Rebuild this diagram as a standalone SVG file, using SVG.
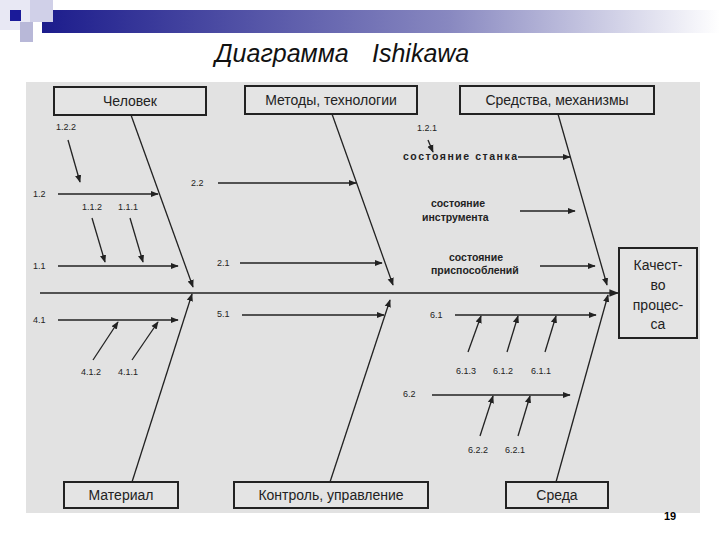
<svg xmlns="http://www.w3.org/2000/svg" width="720" height="540" viewBox="0 0 720 540">
<style>
.box{fill:#e4e4e4;stroke:#222;stroke-width:2}
.bt{font-family:"Liberation Sans",Arial,sans-serif;font-size:14px;fill:#222;text-anchor:middle}
.sm{font-family:"Liberation Sans",Arial,sans-serif;font-size:9px;fill:#222}
.st{font-size:10.5px;font-weight:bold}
.ln{stroke:#222;stroke-width:1.3;fill:none}
.bone{stroke:#222;stroke-width:1.6;fill:none}
.tt{font-family:"Liberation Sans",Arial,sans-serif;font-size:25px;font-style:italic;fill:#111}
</style>
<defs>
<marker id="ar" viewBox="0 0 10 10" refX="9" refY="5" markerWidth="6" markerHeight="6" orient="auto"><path d="M0,1 L10,5 L0,9 z" fill="#222"/></marker>
<linearGradient id="g" x1="0" x2="1"><stop offset="0" stop-color="#1c1c8c"/><stop offset="0.6" stop-color="#8888c0"/><stop offset="1" stop-color="#ffffff"/></linearGradient>
</defs>
<rect width="720" height="540" fill="#fff"/>
<rect x="42" y="10" width="678" height="23" fill="url(#g)"/>
<rect x="0" y="0" width="30" height="30" fill="#e8e8f4"/>
<rect x="20" y="22" width="13" height="20" fill="#b8b8d8"/>
<rect x="30" y="0" width="23" height="22" fill="#d0d0e8"/>
<rect x="10" y="10" width="11" height="11" fill="#1a1a99"/>
<text class="tt" x="215" y="62">Диаграмма</text>
<text class="tt" x="372" y="62">Ishikawa</text>
<rect x="26" y="82" width="674" height="431" fill="#e2e2e2"/>
<g id="connectors">
<line class="bone" x1="40" y1="293" x2="618" y2="293" stroke-width="2.5" marker-end="url(#ar)"/>
<line class="ln" x1="131" y1="115" x2="193" y2="287" marker-end="url(#ar)"/>
<line class="ln" x1="332" y1="114" x2="393" y2="285" marker-end="url(#ar)"/>
<line class="ln" x1="558" y1="114" x2="607" y2="285" marker-end="url(#ar)"/>
<line class="ln" x1="132" y1="482" x2="192" y2="294" marker-end="url(#ar)"/>
<line class="ln" x1="330" y1="482" x2="390" y2="300" marker-end="url(#ar)"/>
<line class="ln" x1="556" y1="482" x2="608" y2="295" marker-end="url(#ar)"/>
<line class="ln" x1="68" y1="140" x2="80" y2="182" marker-end="url(#ar)"/>
<line class="ln" x1="58" y1="194" x2="158" y2="194" marker-end="url(#ar)"/>
<line class="ln" x1="92" y1="218" x2="105" y2="262" marker-end="url(#ar)"/>
<line class="ln" x1="130" y1="218" x2="143" y2="262" marker-end="url(#ar)"/>
<line class="ln" x1="58" y1="266" x2="178" y2="266" stroke-width="1.8" marker-end="url(#ar)"/>
<line class="ln" x1="218" y1="183" x2="356" y2="183" marker-end="url(#ar)"/>
<line class="ln" x1="240" y1="263" x2="382" y2="263" marker-end="url(#ar)"/>
<line class="ln" x1="428" y1="140" x2="433" y2="152" marker-end="url(#ar)"/>
<line class="ln" x1="518" y1="157" x2="570" y2="157" marker-end="url(#ar)"/>
<line class="ln" x1="520" y1="211" x2="575" y2="211" marker-end="url(#ar)"/>
<line class="ln" x1="540" y1="266" x2="595" y2="266" marker-end="url(#ar)"/>
<line class="ln" x1="58" y1="320" x2="178" y2="320" marker-end="url(#ar)"/>
<line class="ln" x1="93" y1="360" x2="118" y2="322" marker-end="url(#ar)"/>
<line class="ln" x1="132" y1="360" x2="158" y2="322" marker-end="url(#ar)"/>
<line class="ln" x1="242" y1="315" x2="384" y2="315" stroke-width="1.8" marker-end="url(#ar)"/>
<line class="ln" x1="455" y1="315" x2="596" y2="315" stroke-width="1.8" marker-end="url(#ar)"/>
<line class="ln" x1="468" y1="352" x2="481" y2="316" marker-end="url(#ar)"/>
<line class="ln" x1="507" y1="352" x2="518" y2="316" marker-end="url(#ar)"/>
<line class="ln" x1="545" y1="352" x2="556" y2="316" marker-end="url(#ar)"/>
<line class="ln" x1="432" y1="395" x2="570" y2="395" stroke-width="1.8" marker-end="url(#ar)"/>
<line class="ln" x1="480" y1="436" x2="493" y2="396" marker-end="url(#ar)"/>
<line class="ln" x1="518" y1="436" x2="530" y2="396" marker-end="url(#ar)"/>
</g>
<g id="n-chelovek"><rect class="box" x="54" y="87" width="152" height="28"/><text class="bt" x="130" y="106">Человек</text></g>
<g id="n-metody"><rect class="box" x="245" y="86" width="172" height="28"/><text class="bt" x="331" y="105">Методы, технологии</text></g>
<g id="n-sredstva"><rect class="box" x="460" y="86" width="194" height="28"/><text class="bt" x="557" y="105">Средства, механизмы</text></g>
<g id="n-kachestvo"><rect class="box" x="619" y="248" width="78" height="90"/>
<text class="bt" x="658" y="270" font-size="15">Качест-</text><text class="bt" x="658" y="290" font-size="15">во</text><text class="bt" x="658" y="310" font-size="15">процес-</text><text class="bt" x="658" y="329" font-size="15">са</text></g>
<g id="n-material"><rect class="box" x="64" y="482" width="114" height="26"/><text class="bt" x="121" y="500">Материал</text></g>
<g id="n-kontrol"><rect class="box" x="234" y="482" width="194" height="26"/><text class="bt" x="331" y="500">Контроль, управление</text></g>
<g id="n-sreda"><rect class="box" x="506" y="482" width="102" height="26"/><text class="bt" x="557" y="500">Среда</text></g>
<g id="labels" class="sm">
<text x="56" y="130">1.2.2</text>
<text x="33" y="197">1.2</text>
<text x="82" y="210">1.1.2</text>
<text x="118" y="210">1.1.1</text>
<text x="33" y="269">1.1</text>
<text x="191" y="186">2.2</text>
<text x="217" y="266">2.1</text>
<text x="417" y="131">1.2.1</text>
<text class="st" x="403" y="160" textLength="114">состояние станка</text>
<text class="st" x="431" y="207">состояние</text>
<text class="st" x="422" y="221">инструмента</text>
<text class="st" x="449" y="261">состояние</text>
<text class="st" x="431" y="274">приспособлений</text>
<text x="33" y="323">4.1</text>
<text x="81" y="375">4.1.2</text>
<text x="118" y="375">4.1.1</text>
<text x="217" y="317">5.1</text>
<text x="430" y="318">6.1</text>
<text x="456" y="374">6.1.3</text>
<text x="493" y="374">6.1.2</text>
<text x="531" y="374">6.1.1</text>
<text x="403" y="397">6.2</text>
<text x="468" y="453">6.2.2</text>
<text x="505" y="453">6.2.1</text>
</g>
<text x="670" y="520" font-family="Liberation Sans,Arial,sans-serif" font-size="11" font-weight="bold" text-anchor="middle">19</text>
</svg>
